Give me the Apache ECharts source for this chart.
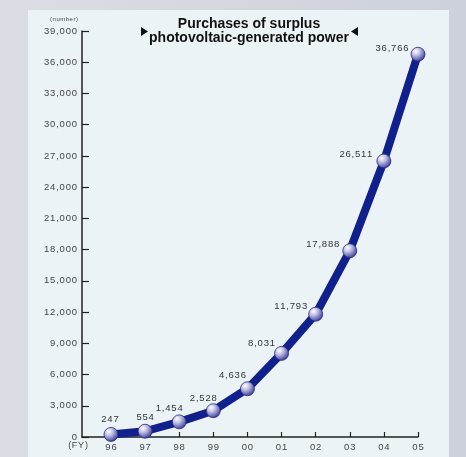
<!DOCTYPE html>
<html>
<head>
<meta charset="utf-8">
<script src="https://cdn.jsdelivr.net/npm/echarts@6/dist/echarts.min.js"></script>
<style>
  html, body { margin: 0; padding: 0; }
  #chart { width: 466px; height: 457px; }
</style>
</head>
<body>
<div id="chart"></div>
<script>
// Fiscal years (FY) and number of surplus PV power purchases
var years = ['96', '97', '98', '99', '00', '01', '02', '03', '04', '05'];
var purchases = [247, 554, 1454, 2528, 4636, 8031, 11793, 17888, 26511, 36766];
// Label offsets (dx, dy) from each marker centre
var labelOffsets = [[-1, -15], [0, -14], [-10, -13], [-10, -12], [-15, -13],
                    [-20, -10], [-25, -8], [-27, -6], [-28, -7], [-26, -6]];
var yTicks = { min: 0, max: 39000, step: 3000 };

// Spread characters with hair spaces for the airy numeral look
function spaced(s) { return s.split('').join('\u200A'); }
function fmt(v) { return spaced(v.toLocaleString('en-US')); }

var chart = echarts.init(document.getElementById('chart'), null, { renderer: 'canvas' });

var sphere = new echarts.graphic.RadialGradient(0.35, 0.3, 0.75, [
  { offset: 0, color: '#ffffff' },
  { offset: 0.35, color: '#c4c4e6' },
  { offset: 0.75, color: '#6a6ab4' },
  { offset: 1, color: '#2c2c88' }
]);

var labelFont = 'Liberation Sans';

chart.setOption({
  animation: false,
  backgroundColor: new echarts.graphic.LinearGradient(0, 0, 1, 0, [
    { offset: 0, color: '#dadde4' },
    { offset: 1, color: '#cdd1d9' }
  ]),
  graphic: [
    { type: 'rect', z: -10, shape: { x: 28, y: 10, width: 421, height: 460 }, style: { fill: '#ecf3f7' } },
    { type: 'text', x: 249, y: 17, style: {
        text: 'Purchases of surplus\nphotovoltaic-generated power',
        font: 'bold 14px "Liberation Sans", Arial, sans-serif', fill: '#111', align: 'center',
        lineHeight: 14 } },
    { type: 'polygon', shape: { points: [[141, 27], [148, 31.5], [141, 36]] }, style: { fill: '#111' } },
    { type: 'polygon', shape: { points: [[358, 27], [351, 31.5], [358, 36]] }, style: { fill: '#111' } },
    { type: 'text', x: 64, y: 19, style: { text: spaced('(number)'), font: '6px "Liberation Sans", Arial, sans-serif',
        fill: '#444', align: 'center', verticalAlign: 'middle' } },
    { type: 'text', x: 78, y: 446, style: { text: spaced('(FY)'), font: '9px "Liberation Sans", Arial, sans-serif',
        fill: '#444', align: 'center', verticalAlign: 'middle' } }
  ],
  grid: { left: 82, right: 48, top: 31, bottom: 20, containLabel: false },
  xAxis: {
    type: 'value',
    min: -0.85,
    max: years.length - 1,
    splitLine: { show: false },
    axisLine: { onZero: false, lineStyle: { color: '#222', width: 1.5 } },
    axisTick: { inside: true, length: 5, lineStyle: { color: '#222', width: 1.2 },
      customValues: years.map(function (_, i) { return i; }) },
    axisLabel: {
      customValues: years.map(function (_, i) { return i; }),
      formatter: function (v) { return spaced(years[Math.round(v)]); },
      color: '#444', fontSize: 9.5, fontFamily: labelFont, margin: 5
    }
  },
  yAxis: {
    type: 'value',
    min: yTicks.min,
    max: yTicks.max,
    interval: yTicks.step,
    splitLine: { show: false },
    axisLine: { show: true, onZero: false, lineStyle: { color: '#222', width: 1.5 } },
    axisTick: { show: true, inside: true, length: 7, lineStyle: { color: '#222', width: 1.2 } },
    axisLabel: { formatter: fmt, color: '#444', fontSize: 9.5, fontFamily: labelFont, margin: 5 }
  },
  series: [{
    type: 'line',
    data: purchases.map(function (v, i) {
      return {
        value: [i, v],
        label: { offset: labelOffsets[i] }
      };
    }),
    lineStyle: { color: '#10208c', width: 8, cap: 'round', join: 'round' },
    symbol: 'circle',
    symbolSize: 14,
    itemStyle: { color: sphere, borderColor: '#2a2a80', borderWidth: 0.8 },
    label: {
      show: true,
      position: 'inside',
      formatter: function (p) { return fmt(p.value[1]); },
      color: '#333', fontSize: 9.5, fontFamily: labelFont
    },
    z: 3
  }]
});
</script>
</body>
</html>
